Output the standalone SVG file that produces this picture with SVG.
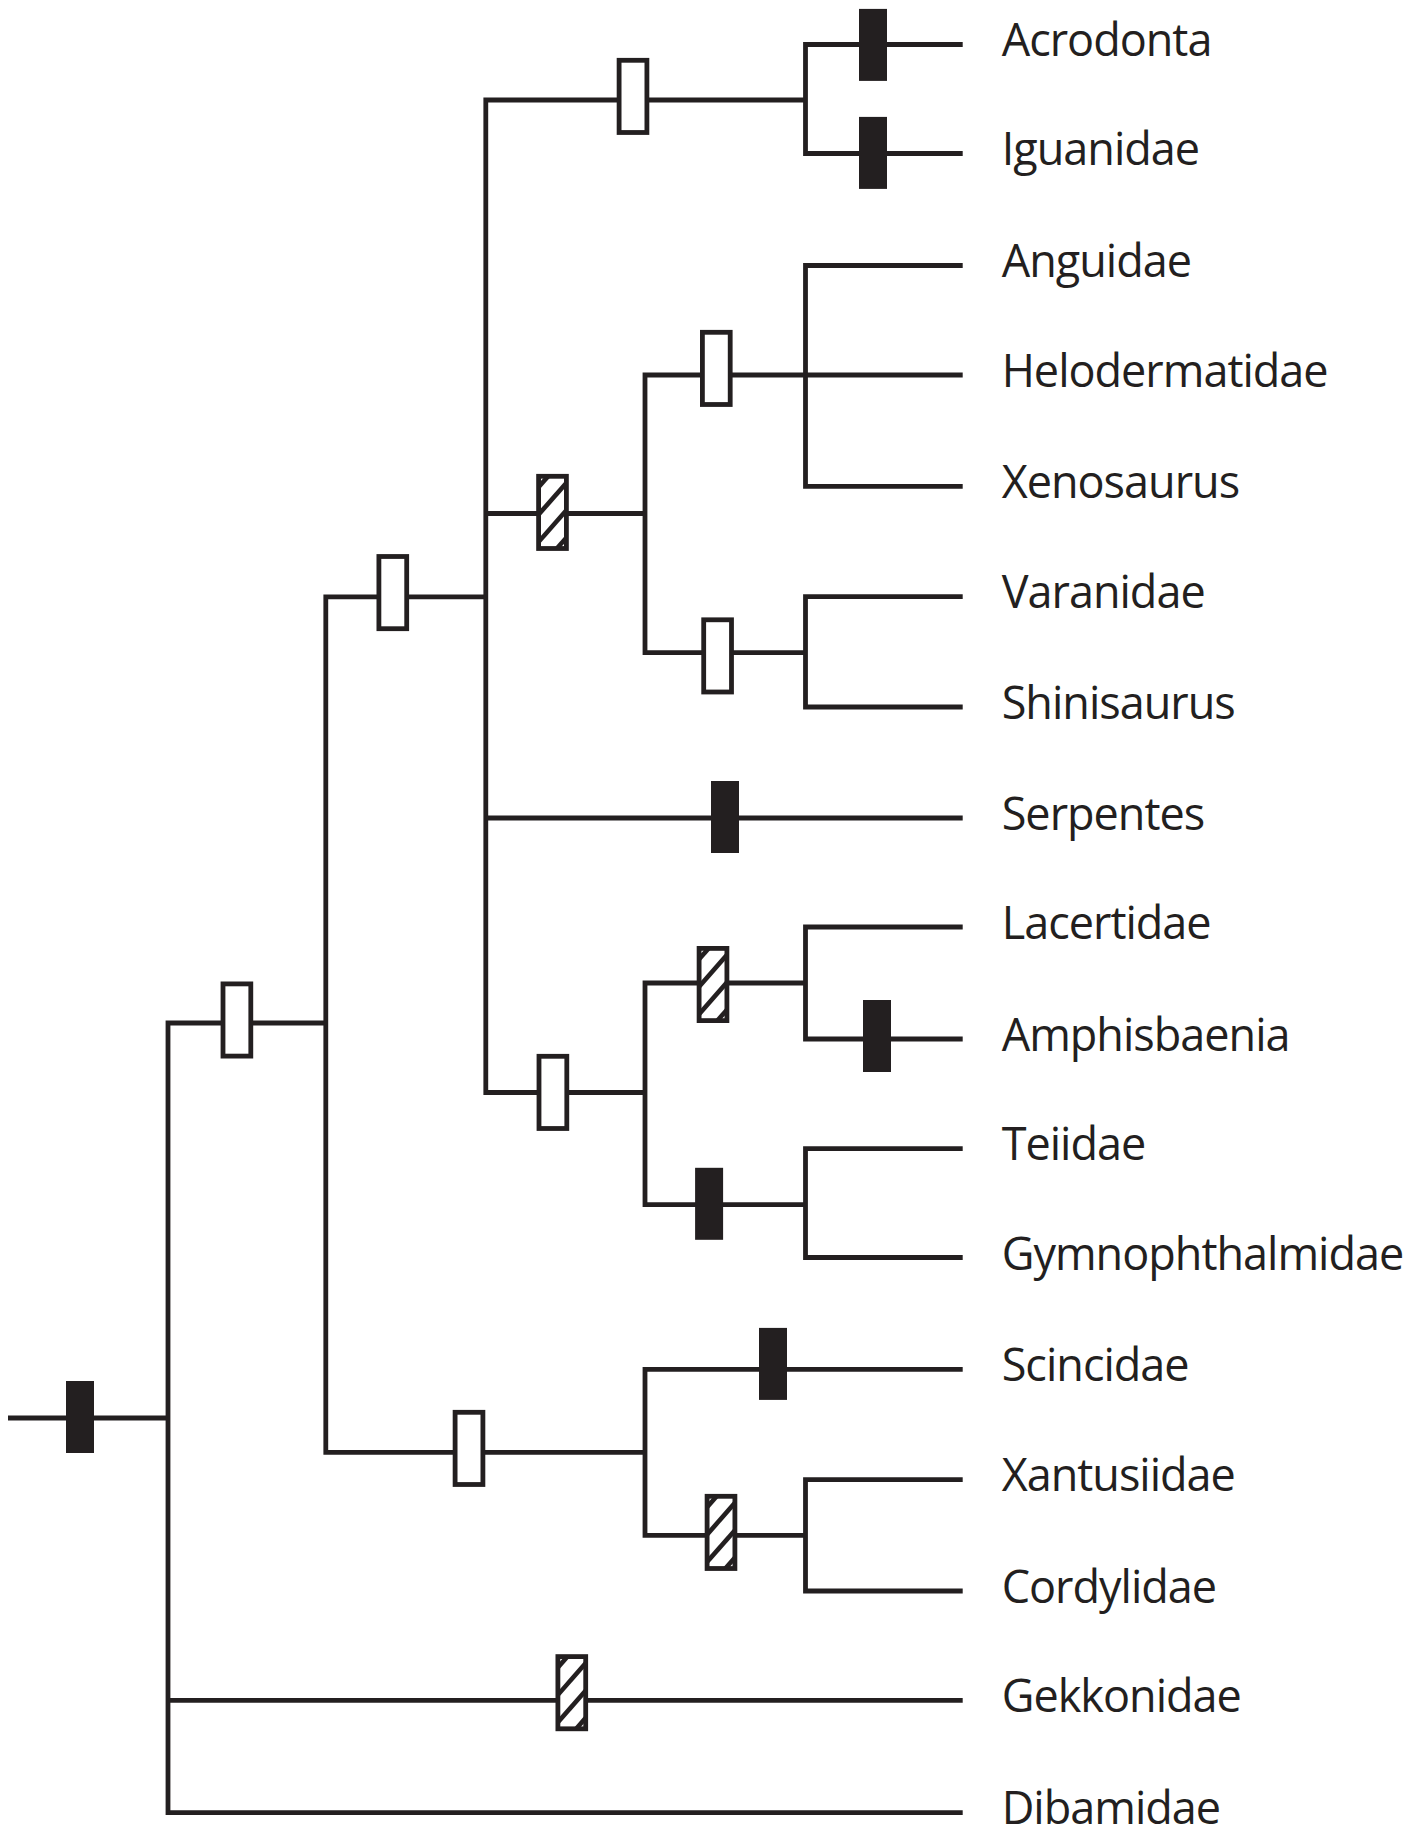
<svg xmlns="http://www.w3.org/2000/svg" xmlns:xlink="http://www.w3.org/1999/xlink" width="1424" height="1828" viewBox="0 0 1424 1828">
  <style>
    .branch { fill: none; stroke: #231f20; stroke-width: 4.8; stroke-linecap: butt; stroke-linejoin: miter; }
    .taxon { font-family: "Open Sans", "Noto Sans", "Liberation Sans", sans-serif; font-size: 45px; letter-spacing: -1px; fill: #231f20; }
  </style>
  <defs>
    <!-- character-state marks, drawn about their own centre -->
    <rect id="mark-open" x="-13.9" y="-36.1" width="27.8" height="72.2" fill="#ffffff" stroke="#231f20" stroke-width="4.8"/>
    <rect id="mark-solid" x="-14" y="-36" width="28" height="72" fill="#231f20"/>
    <clipPath id="hatch-clip">
      <rect x="-13.9" y="-36.1" width="27.8" height="72.2"/>
    </clipPath>
    <g id="mark-hatched">
      <rect x="-13.9" y="-36.1" width="27.8" height="72.2" fill="#ffffff"/>
      <g clip-path="url(#hatch-clip)" stroke="#231f20" stroke-width="4.6">
        <line x1="-20" y1="-18.3" x2="20" y2="-63.9"/>
        <line x1="-20" y1="9.1" x2="20" y2="-36.5"/>
        <line x1="-20" y1="36.5" x2="20" y2="-9.1"/>
        <line x1="-20" y1="63.9" x2="20" y2="18.3"/>
      </g>
      <rect x="-13.9" y="-36.1" width="27.8" height="72.2" fill="none" stroke="#231f20" stroke-width="4.8"/>
    </g>
  </defs>

  <rect width="1424" height="1828" fill="#ffffff"/>

  <!-- tree branches -->
  <g id="branches">
    <path class="branch" d="M 8 1418 H 168"/>
    <path class="branch" d="M 962.7 1812.7 H 168 V 1023 H 325.8"/>
    <path class="branch" d="M 168 1700.3 H 962.7"/>
    <path class="branch" d="M 485.8 596.8 H 325.8 V 1452.3 H 645"/>
    <path class="branch" d="M 805.5 100 H 485.8 V 1092.5 H 645"/>
    <path class="branch" d="M 962.7 44.5 H 805.5 V 153.5 H 962.7"/>
    <path class="branch" d="M 485.8 513.5 H 645"/>
    <path class="branch" d="M 805.5 375 H 645 V 652.7 H 805.5"/>
    <path class="branch" d="M 962.7 265.5 H 805.5 V 486.3 H 962.7"/>
    <path class="branch" d="M 805.5 375 H 962.7"/>
    <path class="branch" d="M 962.7 596.7 H 805.5 V 707 H 962.7"/>
    <path class="branch" d="M 485.8 818 H 962.7"/>
    <path class="branch" d="M 805.5 983 H 645 V 1204.6 H 805.5"/>
    <path class="branch" d="M 962.7 927 H 805.5 V 1039 H 962.7"/>
    <path class="branch" d="M 962.7 1148.6 H 805.5 V 1257.5 H 962.7"/>
    <path class="branch" d="M 962.7 1369.3 H 645 V 1535.3 H 805.5"/>
    <path class="branch" d="M 962.7 1479.7 H 805.5 V 1591 H 962.7"/>
  </g>

  <!-- character-state marks on branches -->
  <g id="marks">
    <g id="mark-squamata"><use xlink:href="#mark-solid" x="80" y="1417"/></g>
    <g id="mark-node-a"><use xlink:href="#mark-open" x="236.9" y="1020"/></g>
    <g id="mark-node-b"><use xlink:href="#mark-open" x="392.8" y="592.6"/></g>
    <g id="mark-scincoidea"><use xlink:href="#mark-open" x="469" y="1448.4"/></g>
    <g id="mark-iguania"><use xlink:href="#mark-open" x="633" y="96.4"/></g>
    <g id="mark-anguimorpha"><use xlink:href="#mark-hatched" x="552.5" y="512.4"/></g>
    <g id="mark-anguid-group"><use xlink:href="#mark-open" x="716.3" y="368.4"/></g>
    <g id="mark-varanid-group"><use xlink:href="#mark-open" x="717.6" y="655.9"/></g>
    <g id="mark-serpentes"><use xlink:href="#mark-solid" x="725" y="817"/></g>
    <g id="mark-lacertoidea"><use xlink:href="#mark-open" x="552.9" y="1092.4"/></g>
    <g id="mark-lacertid-group"><use xlink:href="#mark-hatched" x="713" y="984.5"/></g>
    <g id="mark-amphisbaenia"><use xlink:href="#mark-solid" x="877" y="1036"/></g>
    <g id="mark-teiid-group"><use xlink:href="#mark-solid" x="709.1" y="1203.8"/></g>
    <g id="mark-scincidae"><use xlink:href="#mark-solid" x="773" y="1363.9"/></g>
    <g id="mark-cordyliform"><use xlink:href="#mark-hatched" x="721" y="1532.4"/></g>
    <g id="mark-gekkonidae"><use xlink:href="#mark-hatched" x="571.8" y="1692.7"/></g>
    <g id="mark-acrodonta"><use xlink:href="#mark-solid" x="873" y="44.9"/></g>
    <g id="mark-iguanidae"><use xlink:href="#mark-solid" x="873" y="152.9"/></g>
  </g>

  <!-- terminal taxa -->
  <g id="taxon-acrodonta"><text class="taxon" x="1001.7" y="56">Acrodonta</text></g>
  <g id="taxon-iguanidae"><text class="taxon" x="1001.7" y="165">Iguanidae</text></g>
  <g id="taxon-anguidae"><text class="taxon" x="1001.7" y="277">Anguidae</text></g>
  <g id="taxon-helodermatidae"><text class="taxon" x="1001.7" y="386.5">Helodermatidae</text></g>
  <g id="taxon-xenosaurus"><text class="taxon" x="1001.7" y="497.8">Xenosaurus</text></g>
  <g id="taxon-varanidae"><text class="taxon" x="1001.7" y="608.2">Varanidae</text></g>
  <g id="taxon-shinisaurus"><text class="taxon" x="1001.7" y="718.5">Shinisaurus</text></g>
  <g id="taxon-serpentes"><text class="taxon" x="1001.7" y="829.5">Serpentes</text></g>
  <g id="taxon-lacertidae"><text class="taxon" x="1001.7" y="938.5">Lacertidae</text></g>
  <g id="taxon-amphisbaenia"><text class="taxon" x="1001.7" y="1050.5">Amphisbaenia</text></g>
  <g id="taxon-teiidae"><text class="taxon" x="1001.7" y="1160">Teiidae</text></g>
  <g id="taxon-gymnophthalmidae"><text class="taxon" x="1001.7" y="1270">Gymnophthalmidae</text></g>
  <g id="taxon-scincidae"><text class="taxon" x="1001.7" y="1380.8">Scincidae</text></g>
  <g id="taxon-xantusiidae"><text class="taxon" x="1001.7" y="1491.2">Xantusiidae</text></g>
  <g id="taxon-cordylidae"><text class="taxon" x="1001.7" y="1602.5">Cordylidae</text></g>
  <g id="taxon-gekkonidae"><text class="taxon" x="1001.7" y="1711.8">Gekkonidae</text></g>
  <g id="taxon-dibamidae"><text class="taxon" x="1001.7" y="1824.2">Dibamidae</text></g>
</svg>
